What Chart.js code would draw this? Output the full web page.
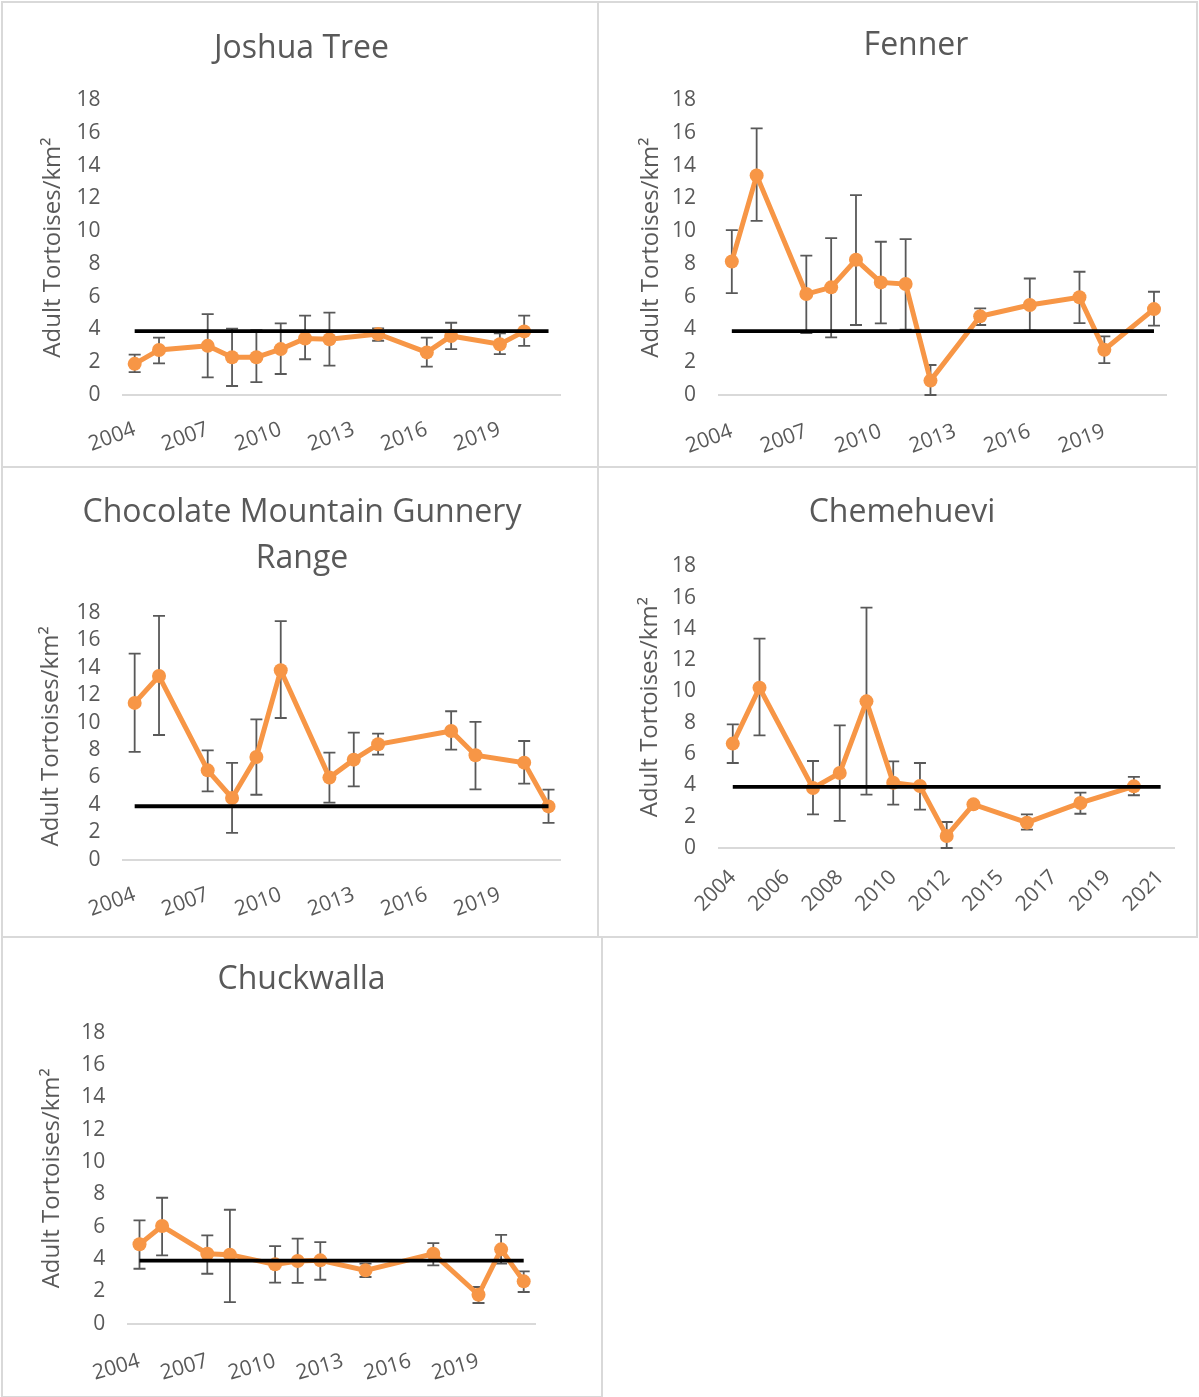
<!DOCTYPE html>
<html><head><meta charset="utf-8">
<script src="https://cdn.jsdelivr.net/npm/chart.js@4.4.1/dist/chart.umd.min.js"></script>
<style>
html,body{margin:0;padding:0;background:#fff;}
body{width:1199px;height:1397px;position:relative;overflow:hidden;}
.panel{position:absolute;box-sizing:border-box;border:2px solid #d9d9d9;background:#fff;}
canvas{position:absolute;}
</style></head><body>
<div class="panel" style="left:1px;top:1px;width:598px;height:467px"></div>
<div class="panel" style="left:597px;top:1px;width:601px;height:467px"></div>
<div class="panel" style="left:1px;top:466px;width:598px;height:472px"></div>
<div class="panel" style="left:597px;top:466px;width:601px;height:472px"></div>
<div class="panel" style="left:1px;top:936px;width:602px;height:462px"></div>
<canvas id="c1"></canvas>
<canvas id="c2"></canvas>
<canvas id="c3"></canvas>
<canvas id="c4"></canvas>
<canvas id="c5"></canvas>
<script>
// ---------- DATA ----------
const years = ['2004','2005','2006','2007','2008','2009','2010','2011','2012','2013','2014','2015','2016','2017','2018','2019','2020','2021'];
const chemYears = ['2004','2005','2006','2007','2008','2009','2010','2011','2012','2014','2015','2016','2017','2018','2019','2020','2021'];
const tickLabels3 = ['2004','2007','2010','2013','2016','2019'];
const chemTickLabels = ['2004','2006','2008','2010','2012','2015','2017','2019','2021'];
const yAxisTitle = 'Adult Tortoises/km²';

const joshuaMean = [1.9, 2.75, null, 3.0, 2.3, 2.3, 2.8, 3.45, 3.4, null, 3.72, null, 2.6, 3.6, null, 3.1, 3.88, null];
const joshuaHi   = [2.46, 3.5, null, 4.94, 4.05, 3.95, 4.37, 4.84, 5.03, null, 4.07, null, 3.5, 4.41, null, 3.76, 4.84, null];
const joshuaLo   = [1.4, 1.93, null, 1.08, 0.55, 0.78, 1.28, 2.18, 1.79, null, 3.31, null, 1.73, 2.8, null, 2.5, 3.0, null];

const fennerMean = [8.15, 13.4, null, 6.16, 6.57, 8.25, 6.87, 6.77, 0.88, null, 4.8, null, 5.49, null, 5.96, 2.76, null, 5.24];
const fennerHi   = [10.06, 16.27, null, 8.5, 9.57, 12.2, 9.35, 9.51, 1.83, null, 5.28, null, 7.11, null, 7.52, 3.58, null, 6.3];
const fennerLo   = [6.22, 10.63, null, 3.78, 3.52, 4.27, 4.37, 3.98, 0.0, null, 4.27, null, 3.92, null, 4.39, 1.95, null, 4.23];

const chocoMean = [11.44, 13.4, null, 6.52, 4.5, 7.49, 13.82, null, 5.99, 7.3, 8.42, null, null, 9.39, 7.62, null, 7.08, 3.89];
const chocoHi   = [15.04, 17.79, null, 7.98, 7.06, 10.24, 17.4, null, 7.81, 9.27, 9.2, null, null, 10.83, 10.05, null, 8.66, 5.11];
const chocoLo   = [7.86, 9.1, null, 4.99, 1.95, 4.74, 10.34, null, 4.16, 5.35, 7.66, null, null, 8.03, 5.13, null, 5.55, 2.68];

const chemMean = [6.67, 10.24, null, 3.83, 4.79, 9.37, 4.17, 3.96, 0.77, 2.79, null, 1.62, null, 2.88, null, 3.94, null];
const chemHi   = [7.9, 13.38, null, 5.56, 7.84, 15.36, 5.54, 5.43, 1.66, null, null, 2.15, null, 3.54, null, 4.54, null];
const chemLo   = [5.43, 7.2, null, 2.15, 1.73, 3.41, 2.77, 2.45, 0.0, null, null, 1.17, null, 2.19, null, 3.37, null];

const chuckMean = [4.91, 6.04, null, 4.33, 4.27, null, 3.67, 3.88, 3.92, null, 3.3, null, null, 4.33, null, 1.79, 4.6, 2.62];
const chuckHi   = [6.39, 7.79, null, 5.46, 7.05, null, 4.8, 5.26, 5.05, null, 3.71, null, null, 4.99, null, 2.27, 5.5, 3.24];
const chuckLo   = [3.4, 4.23, null, 3.09, 1.34, null, 2.54, 2.52, 2.72, null, 2.89, null, null, 3.61, null, 1.28, 3.71, 1.96];

const threshold18 = [3.9, 3.9, 3.9, 3.9, 3.9, 3.9, 3.9, 3.9, 3.9, 3.9, 3.9, 3.9, 3.9, 3.9, 3.9, 3.9, 3.9, 3.9];
const threshold17 = [3.9, 3.9, 3.9, 3.9, 3.9, 3.9, 3.9, 3.9, 3.9, 3.9, 3.9, 3.9, 3.9, 3.9, 3.9, 3.9, 3.9];

// ---------- STYLE / BUILD ----------
Chart.defaults.font.family = "'Open Sans', sans-serif";
const GREY = '#595959';
const ORANGE = '#F79646';
const TITLE_SIZE = 32, TITLE_LH = 1.43, YT_SIZE = 24, TICK_SIZE = 21;

function errorBarPlugin(hi, lo) {
  return {
    id: 'errorBars',
    beforeDatasetsDraw(chart) {
      const meta = chart.getDatasetMeta(1);
      const ys = chart.scales.y;
      const ctx = chart.ctx;
      ctx.save();
      ctx.strokeStyle = GREY;
      ctx.lineWidth = 1.8;
      for (let i = 0; i < hi.length; i++) {
        if (hi[i] == null || lo[i] == null) continue;
        const x = meta.data[i].x;
        const y1 = ys.getPixelForValue(hi[i]);
        const y2 = ys.getPixelForValue(lo[i]);
        ctx.beginPath();
        ctx.moveTo(x, y1); ctx.lineTo(x, y2);
        ctx.moveTo(x - 6, y1); ctx.lineTo(x + 6, y1);
        ctx.moveTo(x - 6, y2); ctx.lineTo(x + 6, y2);
        ctx.stroke();
      }
      ctx.restore();
    }
  };
}

function build(id, g, d) {
  const cv = document.getElementById(id);
  cv.width = g.W; cv.height = g.H;
  cv.style.left = g.left + 'px'; cv.style.top = g.top + 'px';
  cv.style.width = g.W + 'px'; cv.style.height = g.H + 'px';
  const pl = g.plotLeft - g.left, pr = g.plotRight - g.left;
  const pt = g.plotTop - g.top, pb = g.plotBottom - g.top;
  const tc = g.titleX - g.left, tm = g.titleY - g.top, ax = g.axisTitleX - g.left;
  const half = YT_SIZE * 1.2 / 2;
  const L = Math.min(ax - half, 2 * tc - pr);
  const ytp = ax - half - L;
  const Xr = Math.max(0, 2 * tc - L - pr);
  const R = L + g.W - 2 * tc;
  const yW = pl - L;
  const lh = TITLE_SIZE * TITLE_LH;
  const lines = Array.isArray(d.title) ? d.title.length : 1;
  const tpTop = tm - lh / 2;
  const tpBot = pt - tpTop - lines * lh;
  const xH = g.H - pb;
  return new Chart(cv, {
    type: 'line',
    data: {
      labels: d.labels,
      datasets: [
        {data: d.threshold, borderColor: '#000', borderWidth: 3.8, pointRadius: 0, spanGaps: true, tension: 0},
        {data: d.values, borderColor: ORANGE, backgroundColor: ORANGE, borderWidth: 5,
         pointRadius: 7, pointBackgroundColor: ORANGE, pointBorderColor: ORANGE, pointBorderWidth: 0,
         spanGaps: true, tension: 0}
      ]
    },
    options: {
      responsive: false, animation: false, devicePixelRatio: 1, events: [],
      layout: {padding: {left: L, right: R, top: 0, bottom: 0}},
      plugins: {
        legend: {display: false}, tooltip: {enabled: false},
        title: {display: true, text: d.title, color: GREY,
                font: {size: TITLE_SIZE, lineHeight: TITLE_LH, weight: 'normal'},
                padding: {top: tpTop, bottom: tpBot}}
      },
      scales: {
        x: {
          type: 'category', offset: true,
          grid: {display: false, drawTicks: false},
          border: {display: true, color: '#d9d9d9', width: 2},
          ticks: {autoSkip: false, minRotation: g.rot, maxRotation: g.rot, padding: g.xPad,
                  color: GREY, font: {size: TICK_SIZE},
                  callback(v) { const l = this.getLabelForValue(v); return d.tickLabels.includes(l) ? l : ''; }},
          afterFit(s) { s.height = xH; }
        },
        y: {
          min: 0, max: 18,
          grid: {display: false, drawTicks: false},
          border: {display: false},
          ticks: {stepSize: 2, autoSkip: false, padding: g.yPad, color: GREY, font: {size: TICK_SIZE}},
          title: {display: true, text: yAxisTitle, color: GREY, font: {size: YT_SIZE, lineHeight: 1.2},
                  padding: {top: ytp, bottom: 0}},
          afterFit(s) { s.width = yW; }
        },
        yR: {
          position: 'right', display: true,
          grid: {display: false, drawTicks: false}, border: {display: false},
          ticks: {display: false},
          afterFit(s) { s.width = Xr; }
        }
      }
    },
    plugins: [errorBarPlugin(d.hi, d.lo)]
  });
}

build('c1', {left: 1, top: 1, W: 598, H: 467, plotLeft: 122.5, plotRight: 560.7, plotTop: 100, plotBottom: 395,
             titleX: 301.5, titleY: 48.5, axisTitleX: 53.6, rot: 20, xPad: 22, yPad: 22},
      {labels: years, tickLabels: tickLabels3, values: joshuaMean, hi: joshuaHi, lo: joshuaLo, threshold: threshold18, title: 'Joshua Tree'});
build('c2', {left: 597, top: 1, W: 601, H: 467, plotLeft: 719.4, plotRight: 1166.4, plotTop: 100, plotBottom: 395,
             titleX: 916, titleY: 46.2, axisTitleX: 650.7, rot: 20, xPad: 24, yPad: 23.5},
      {labels: years, tickLabels: tickLabels3, values: fennerMean, hi: fennerHi, lo: fennerLo, threshold: threshold18, title: 'Fenner'});
build('c3', {left: 1, top: 466, W: 598, H: 472, plotLeft: 122.5, plotRight: 560.7, plotTop: 613, plotBottom: 859.7,
             titleX: 302, titleY: 513.3, axisTitleX: 50.7, rot: 20, xPad: 22.5, yPad: 22},
      {labels: years, tickLabels: tickLabels3, values: chocoMean, hi: chocoHi, lo: chocoLo, threshold: threshold18, title: ['Chocolate Mountain Gunnery', 'Range']});
build('c4', {left: 597, top: 466, W: 601, H: 472, plotLeft: 719.4, plotRight: 1174, plotTop: 566.3, plotBottom: 848,
             titleX: 902, titleY: 513.3, axisTitleX: 649.8, rot: 45, xPad: 17, yPad: 23.5},
      {labels: chemYears, tickLabels: chemTickLabels, values: chemMean, hi: chemHi, lo: chemLo, threshold: threshold17, title: 'Chemehuevi'});
build('c5', {left: 1, top: 936, W: 602, H: 462, plotLeft: 128.2, plotRight: 535, plotTop: 1032.7, plotBottom: 1323.7,
             titleX: 301.6, titleY: 979.7, axisTitleX: 52.6, rot: 16, xPad: 25, yPad: 23},
      {labels: years, tickLabels: tickLabels3, values: chuckMean, hi: chuckHi, lo: chuckLo, threshold: threshold18, title: 'Chuckwalla'});
</script>
</body></html>
